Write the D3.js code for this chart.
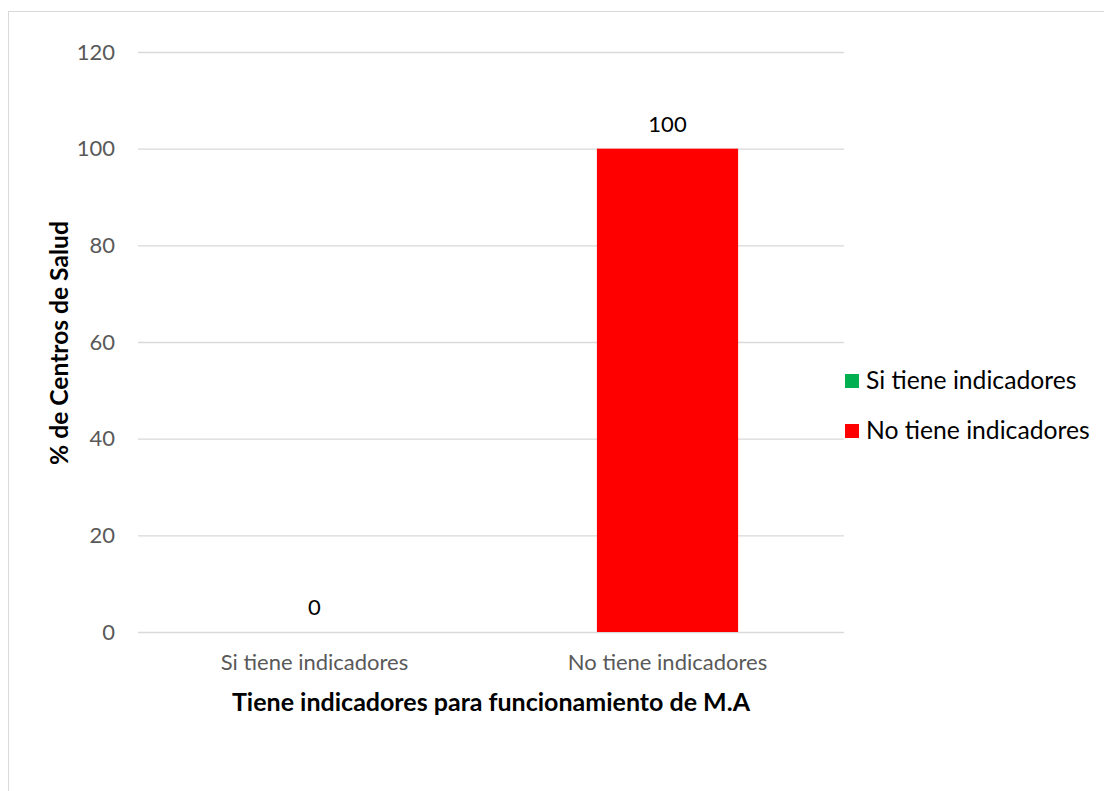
<!DOCTYPE html>
<html><head><meta charset="utf-8">
<script src="https://cdn.jsdelivr.net/npm/d3@7"></script>
<style>body{margin:0;background:#fff}svg{display:block}text{font-family:Lato,"Open Sans",sans-serif}</style>
</head><body><svg id="c" width="1104" height="791"></svg>
<script>
const categories = ["Si tiene indicadores", "No tiene indicadores"];
const values = [0, 100];
const colors = ["#00b050", "#ff0000"];
const yTicks = [0, 20, 40, 60, 80, 100, 120];
const xTitle = "Tiene indicadores para funcionamiento de M.A";
const yTitle = "% de Centros de Salud";

const svg = d3.select("#c");
svg.append("rect").attr("x",8.5).attr("y",11.5).attr("width",1200).attr("height",900)
  .attr("fill","#fff").attr("stroke","#d9d9d9").attr("stroke-width",1);

const L=138, R=844, T=52, B=632;
const x = d3.scaleBand().domain(categories).range([L,R]).paddingInner(0.6).paddingOuter(0.3);
const y = d3.scaleLinear().domain([0,120]).range([B,T]);

const yAxis = svg.append("g").attr("transform",`translate(${L},0)`)
  .call(d3.axisLeft(y).tickValues(yTicks).tickSize(-(R-L)).tickPadding(23));
yAxis.select(".domain").remove();
yAxis.selectAll("line").attr("stroke","#d9d9d9").attr("stroke-width",1.3);
yAxis.selectAll("text").attr("fill","#595959").style("font-size","22px").attr("font-family","Lato");

svg.append("g").selectAll("rect").data(values).join("rect")
  .attr("x",(d,i)=>x(categories[i])).attr("width",x.bandwidth())
  .attr("y",d=>y(d)).attr("height",d=>y(0)-y(d)).attr("fill",(d,i)=>colors[i]);

svg.append("g").selectAll("text").data(values).join("text")
  .attr("x",(d,i)=>x(categories[i])+x.bandwidth()/2).attr("y",d=>y(d)-17)
  .attr("text-anchor","middle").attr("fill","#000").style("font-size","22px").text(d=>d);

const xAxis = svg.append("g").attr("transform",`translate(0,${B})`)
  .call(d3.axisBottom(x).tickSize(0).tickPadding(22));
xAxis.select(".domain").remove();
xAxis.selectAll("text").attr("fill","#595959").style("font-size","22px").attr("font-family","Lato");

svg.append("text").attr("x",491).attr("y",711).attr("text-anchor","middle")
  .attr("font-weight","bold").style("font-size","25px").text(xTitle);
svg.append("text").attr("transform","translate(68,343) rotate(-90)").attr("text-anchor","middle")
  .attr("font-weight","bold").style("font-size","24.6px").text(yTitle);

const leg = svg.append("g").selectAll("g").data(categories).join("g")
  .attr("transform",(d,i)=>`translate(845,${374+i*50})`);
leg.append("rect").attr("width",14).attr("height",14).attr("fill",(d,i)=>colors[i]);
leg.append("text").attr("x",21).attr("y",14.5).style("font-size","24.7px").attr("fill","#000").text(d=>d);
</script></body></html>
